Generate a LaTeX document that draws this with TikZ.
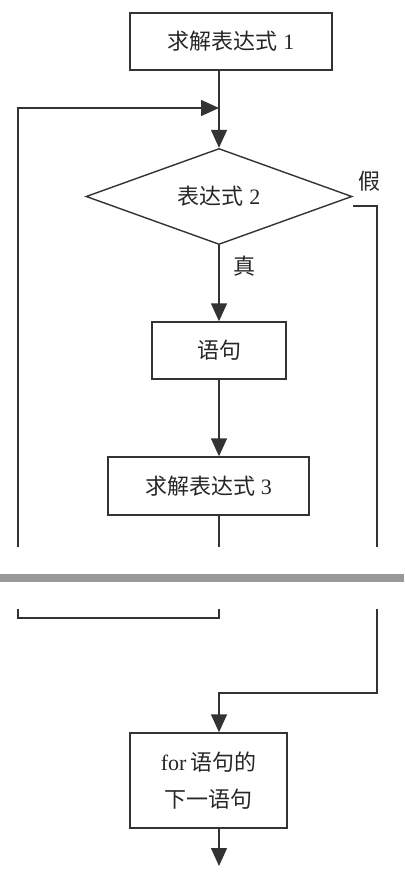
\documentclass[tikz,border=0pt]{standalone}
\usepackage{fontspec}
\setmainfont{Liberation Serif}
\newfontfamily\cjk{Noto Sans CJK SC}
\usetikzlibrary{arrows.meta,shapes.geometric}

\begin{document}
\begin{tikzpicture}[x=1pt,y=-1pt,line width=1.4pt,draw=black!80,
		box/.style={draw,rectangle,minimum height=57pt,inner sep=0pt,text=black!85,font=\fontsize{22}{37}\selectfont},
		cond/.style={draw,diamond,aspect=2.77,minimum width=266pt,minimum height=96pt,inner sep=0pt,text=black!85,font=\fontsize{22}{37}\selectfont},
		lbl/.style={inner sep=0pt,text=black!85,font=\fontsize{22}{37}\selectfont},
		arr/.style={-{Triangle[length=18pt,width=16pt]}}]
		\useasboundingbox (0,0) rectangle (404,877);
		\node[box,minimum width=202pt] (expr1) at (231,41.5) {{\cjk 求解表达式}\ 1\hspace{14pt}};
		\node[cond] (expr2) at (219,196.5) {{\cjk 表达式}\ 2};
		\node[box,minimum width=134pt] (stmt) at (219,350.5) {\cjk 语句};
		\node[box,minimum width=201pt,minimum height=58pt] (expr3) at (208.5,486) {{\cjk 求解表达式}\ 3\hspace{16pt}};
		\node[box,minimum width=157pt,minimum height=95pt,align=center] (next) at (208.5,780.5) {for\,{\cjk 语句的}\\{\cjk 下一语句}};
		\node[lbl] (no) at (369,181) {\cjk 假};
		\node[lbl] (yes) at (244,266) {\cjk 真};
		\coordinate (join) at (219,108);
		\coordinate (fstart) at (353,206);
		\coordinate (lU) at (18,547);
		\coordinate (lD) at (18,609);
		\coordinate (mU) at (219,547);
		\coordinate (mD) at (219,609);
		\coordinate (rU) at (377,547);
		\coordinate (rD) at (377,609);
		\coordinate (turn) at (219,693);
		\coordinate (out) at (219,866);
		\fill[black!40] (0,574) rectangle (404,582);
		\draw[arr] (expr1.south -| expr2.north) -- (expr2.north);
		\draw[arr] (lU) |- (join);
		\draw[arr] (expr2.south) -- (stmt.north);
		\draw[arr] (stmt.south) -- (stmt.south |- expr3.north);
		\draw (expr3.south -| mU) -- (mU);
		\draw (mD) -- ++(0,9) -| (lD);
		\draw (fstart) -| (rU);
		\draw[arr] (rD) |- (turn) -- (turn |- next.north);
		\draw[arr] (next.south -| out) -- (out);
	\end{tikzpicture}
\end{document}
